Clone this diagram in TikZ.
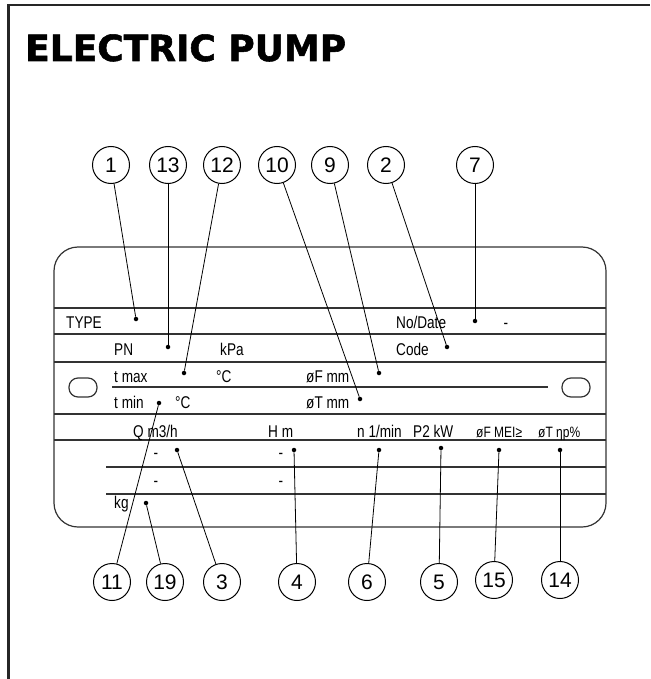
\documentclass[tikz,border=0pt]{standalone}
\usepackage{fontspec}
\setmainfont{Liberation Sans}
\newfontfamily\platefont[FakeStretch=0.8]{Liberation Sans}
\newfontfamily\titlefont[FakeBold=1.5]{DejaVu Sans}
\tikzset{callout/.style={draw,circle,minimum size=37pt,inner sep=0pt,line width=1pt,font=\fontsize{21}{21}\selectfont} }
\tikzset{pin/.style={circle,fill,inner sep=0pt,minimum size=4.5pt} }
\tikzset{field/.style={anchor=base west,inner sep=0pt,font=\platefont\fontsize{17}{17}\selectfont} }
\tikzset{smallfield/.style={field,font=\platefont\fontsize{15}{15}\selectfont} }
\tikzset{leader/.style={line width=0.8pt}, rule/.style={line width=1.2pt,draw=black!80} }

\begin{document}
\begin{tikzpicture}[x=1pt,y=-1pt]
    \useasboundingbox (0,0) rectangle (650,679);
    \draw[line width=2.5pt,draw=black!85] (8.5,679) -- (8.5,5) -- (650,5);
    \node[anchor=base west,inner sep=0pt,font=\titlefont\bfseries\fontsize{36}{36}\selectfont] (title) at (25,61) {ELECTRIC PUMP};
    % plate
    \draw[rule,rounded corners=24pt] (54,247) rectangle (606,527);
    \foreach \y in {308,334,362,414,440} \draw[rule] (54,\y) -- (606,\y);
    \draw[rule] (112,387) -- (548,387);
    \foreach \y in {467,494} \draw[rule] (106,\y) -- (606,\y);
    \draw[rule,rounded corners=9pt] (69,378) rectangle (97,397);
    \draw[rule,rounded corners=9pt] (562,378) rectangle (590,397);
    % fields
    \node[field] (type) at (66,328) {TYPE};
    \node[field] (nodate) at (396,328) {No/Date};
    \node[field,anchor=base] (d0) at (506,328) {-};
    \node[field] (pn) at (114,355) {PN};
    \node[field] (kpa) at (220,355) {kPa};
    \node[field] (code) at (396,355) {Code};
    \node[field] (tmax) at (114,382) {t max};
    \node[field] (cmax) at (216,382) {°C};
    \node[field] (fmm) at (306,382) {øF mm};
    \node[field] (tmin) at (114,408) {t min};
    \node[field] (cmin) at (175,408) {°C};
    \node[field] (tmm) at (306,408) {øT mm};
    \node[field] (q) at (133,437) {Q m3/h};
    \node[field] (h) at (268,437) {H m};
    \node[field] (n) at (357,437) {n 1/min};
    \node[field] (p2) at (413,437) {P2 kW};
    \node[smallfield] (mei) at (476,437) {øF MEI≥};
    \node[smallfield] (eta) at (538,437) {øT ηp\%};
    \node[field,anchor=base] (d1) at (156,458) {-};
    \node[field,anchor=base] (d2) at (281,458) {-};
    \node[field,anchor=base] (d3) at (156,486) {-};
    \node[field,anchor=base] (d4) at (281,486) {-};
    \node[field] (kg) at (114,508) {kg};
    % pins
    \node[pin] (p1) at (136,319) {};
    \node[pin] (p13) at (168,347) {};
    \node[pin] (p12) at (184,373) {};
    \node[pin] (p10) at (360,399) {};
    \node[pin] (p9) at (379,373) {};
    \node[pin] (p2) at (447,347) {};
    \node[pin] (p7) at (475,321) {};
    \node[pin] (p11) at (159,403) {};
    \node[pin] (p19) at (146,503) {};
    \node[pin] (p3) at (177,450) {};
    \node[pin] (p4) at (294,450) {};
    \node[pin] (p6) at (379,450) {};
    \node[pin] (p5) at (441,448) {};
    \node[pin] (p15) at (499,450) {};
    \node[pin] (p14) at (560,450) {};
    % callouts
    \node[callout] (c1) at (111,165) {1};
    \node[callout] (c13) at (168,165) {13};
    \node[callout] (c12) at (222,165) {12};
    \node[callout] (c10) at (277,165) {10};
    \node[callout] (c9) at (330,165) {9};
    \node[callout] (c2) at (386,165) {2};
    \node[callout] (c7) at (475,165) {7};
    \node[callout] (c11) at (112,582) {11};
    \node[callout] (c19) at (165,582) {19};
    \node[callout] (c3) at (222,582) {3};
    \node[callout] (c4) at (297,582) {4};
    \node[callout] (c6) at (367,582) {6};
    \node[callout] (c5) at (439,582) {5};
    \node[callout] (c15) at (494,580) {15};
    \node[callout] (c14) at (560,580) {14};
    \foreach \k in {1,13,12,10,9,2,7,11,19,3,4,6,5,15,14}
        \draw[leader] (c\k) -- (p\k);
\end{tikzpicture}
\end{document}
